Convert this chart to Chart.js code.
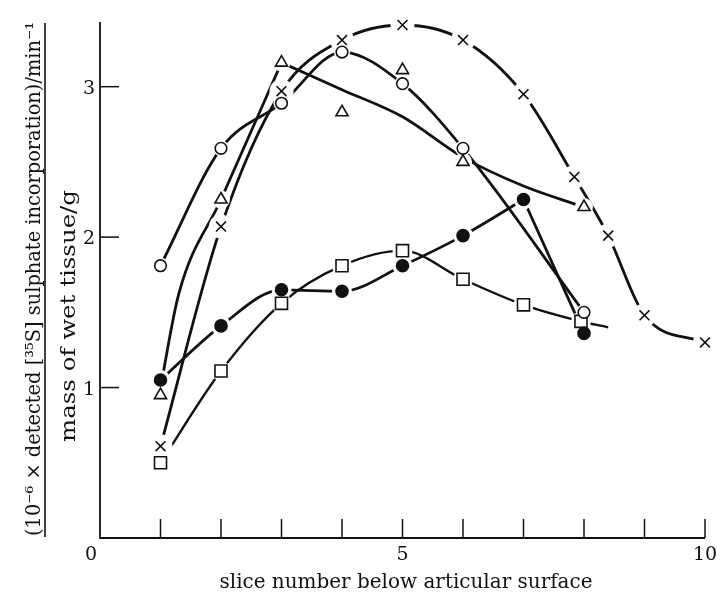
<!DOCTYPE html>
<html>
<head>
<meta charset="utf-8">
<script src="https://cdn.jsdelivr.net/npm/chart.js@4.4.1/dist/chart.umd.min.js"></script>
<style>
  html, body { margin: 0; padding: 0; background: #fff; }
  #wrap { width: 717px; height: 594px; }
</style>
</head>
<body>
<div id="wrap"><canvas id="chart" width="717" height="594"></canvas></div>
<script>
// values (slice number -> incorporation)
const circleX = [1, 2, 3, 4, 5, 6, 8];
const circleY = [1.81, 2.59, 2.89, 3.23, 3.02, 2.59, 1.50];

const triangleX = [1, 2, 3, 4, 5, 6, 8];
const triangleY = [0.95, 2.25, 3.16, 2.83, 3.11, 2.50, 2.20];
// drawn curve for the triangles: steep rise to slice 3, then a smooth fall
const triRiseX = [1, 1.3, 2, 3];
const triRiseY = [1.0, 1.62, 2.25, 3.16];
const triFallX = [3, 4, 5, 6, 7, 8];
const triFallY = [3.16, 2.98, 2.80, 2.53, 2.34, 2.20];

const crossX = [1, 2, 3, 4, 5, 6, 7, 7.84, 8.4, 9, 10];
const crossY = [0.61, 2.07, 2.97, 3.31, 3.41, 3.31, 2.95, 2.40, 2.01, 1.48, 1.30];

const dotX = [1, 2, 3, 4, 5, 6, 7, 8];
const dotY = [1.05, 1.41, 1.65, 1.64, 1.81, 2.01, 2.25, 1.36];

const squareX = [1, 2, 3, 4, 5, 6, 7, 7.95];
const squareY = [0.50, 1.11, 1.56, 1.81, 1.91, 1.72, 1.55, 1.44];
const squareTailX = [8.4];
const squareTailY = [1.40];

const xTicks = [1, 2, 3, 4, 5, 6, 7, 8, 9, 10];
const xLabels = [0, 5, 10];
const yTicks = [1, 2, 3];

const xTitle = 'slice number below articular surface';
const yTitleTop = '(10⁻⁶ × detected [³⁵S] sulphate incorporation)/min⁻¹';
const yTitleBottom = 'mass of wet tissue/g';

const INK = '#111';
const SERIF = '"DejaVu Serif", "Liberation Serif", serif';

const pts = (xs, ys) => xs.map((x, i) => ({ x: x, y: ys[i] }));

const line = (data, extra) => Object.assign({
  data: data, order: 3, borderColor: INK, borderWidth: 2.8, pointRadius: 0,
  fill: false, clip: false, cubicInterpolationMode: 'monotone'
}, extra || {});

// white disc under each marker so the lines stop short of it, like the drawing
const halo = (data, r) => ({
  data: data, order: 2, showLine: false, pointStyle: 'circle', pointRadius: r,
  pointBackgroundColor: '#fff', pointBorderWidth: 0, pointBorderColor: '#fff', clip: false
});

const marker = (data, style, r, bg) => ({
  data: data, order: 1, showLine: false, pointStyle: style, pointRadius: r,
  pointBackgroundColor: bg, pointBorderColor: INK, pointBorderWidth: 1.6, clip: false
});

const circles = pts(circleX, circleY);
const triangles = pts(triangleX, triangleY);
const crosses = pts(crossX, crossY);
const dots = pts(dotX, dotY);
const squares = pts(squareX, squareY);

// draw text at a given size, squeezed or stretched along its run to a width
function fitText(ctx, text, size, width, x, y, angle) {
  ctx.save();
  ctx.font = size + 'px ' + SERIF;
  const sx = width / ctx.measureText(text).width;
  ctx.translate(x, y);
  ctx.rotate(angle);
  ctx.scale(sx, 1);
  ctx.textAlign = 'center';
  ctx.textBaseline = 'alphabetic';
  ctx.fillText(text, 0, 0);
  ctx.restore();
}

const axesPlugin = {
  id: 'paperAxes',
  beforeDatasetsDraw(chart) {
    const ctx = chart.ctx;
    const xs = chart.scales.x, ys = chart.scales.y;
    const x0 = xs.getPixelForValue(0), y0 = ys.getPixelForValue(0);
    ctx.save();
    ctx.strokeStyle = INK;
    ctx.fillStyle = INK;
    ctx.lineWidth = 1.8;
    ctx.beginPath();
    ctx.moveTo(x0, ys.getPixelForValue(3.43));
    ctx.lineTo(x0, y0);
    ctx.lineTo(xs.getPixelForValue(10), y0);
    ctx.stroke();

    ctx.lineWidth = 1.5;
    xTicks.forEach(v => {
      const px = xs.getPixelForValue(v);
      ctx.beginPath(); ctx.moveTo(px, y0); ctx.lineTo(px, y0 - 19); ctx.stroke();
    });
    yTicks.forEach(v => {
      const py = ys.getPixelForValue(v);
      ctx.beginPath(); ctx.moveTo(x0, py); ctx.lineTo(x0 + 19, py); ctx.stroke();
    });

    ctx.font = '19px ' + SERIF;
    ctx.textBaseline = 'alphabetic';
    ctx.textAlign = 'right';
    yTicks.forEach(v => ctx.fillText(String(v), x0 - 5, ys.getPixelForValue(v) + 7));
    ctx.textAlign = 'center';
    xLabels.forEach(v => {
      const px = xs.getPixelForValue(v) - (v === 0 ? 9 : 0);
      ctx.fillText(String(v), px, 560);
    });

    fitText(ctx, xTitle, 20, 373, 406, 588, 0);
    fitText(ctx, yTitleTop, 21, 514, 40, 279, -Math.PI / 2);
    fitText(ctx, yTitleBottom, 21, 252, 75, 316, -Math.PI / 2);

    ctx.lineWidth = 1.6;
    ctx.beginPath(); ctx.moveTo(45, 23); ctx.lineTo(45, 537); ctx.stroke();

    ctx.restore();
  }
};

new Chart(document.getElementById('chart').getContext('2d'), {
  type: 'line',
  data: {
    datasets: [
      line(circles),
      line(pts(triRiseX, triRiseY)),
      line(pts(triFallX, triFallY)),
      line(crosses),
      line(dots.slice(0, 7)),
      line(dots.slice(6), { cubicInterpolationMode: 'default', tension: 0 }),
      line(squares.concat(pts(squareTailX, squareTailY)), { borderWidth: 2.4 }),

      halo(circles, 8),
      halo(triangles, 9),
      halo(crosses, 12),
      halo(dots, 10),
      halo(squares, 10),

      marker(circles, 'circle', 5.8, '#fff'),
      marker(triangles, 'triangle', 7, '#fff'),
      marker(crosses, 'crossRot', 7, INK),
      marker(dots, 'circle', 6, INK),
      marker(squares, 'rect', 8.5, '#fff')
    ]
  },
  options: {
    responsive: false,
    animation: false,
    events: [],
    layout: { padding: { left: 100, right: 9, top: 22, bottom: 56 } },
    plugins: { legend: { display: false }, tooltip: { enabled: false } },
    scales: {
      x: { type: 'linear', min: 0, max: 10, display: false },
      y: { min: 0, max: 3.43, display: false }
    }
  },
  plugins: [axesPlugin]
});
</script>
</body>
</html>
